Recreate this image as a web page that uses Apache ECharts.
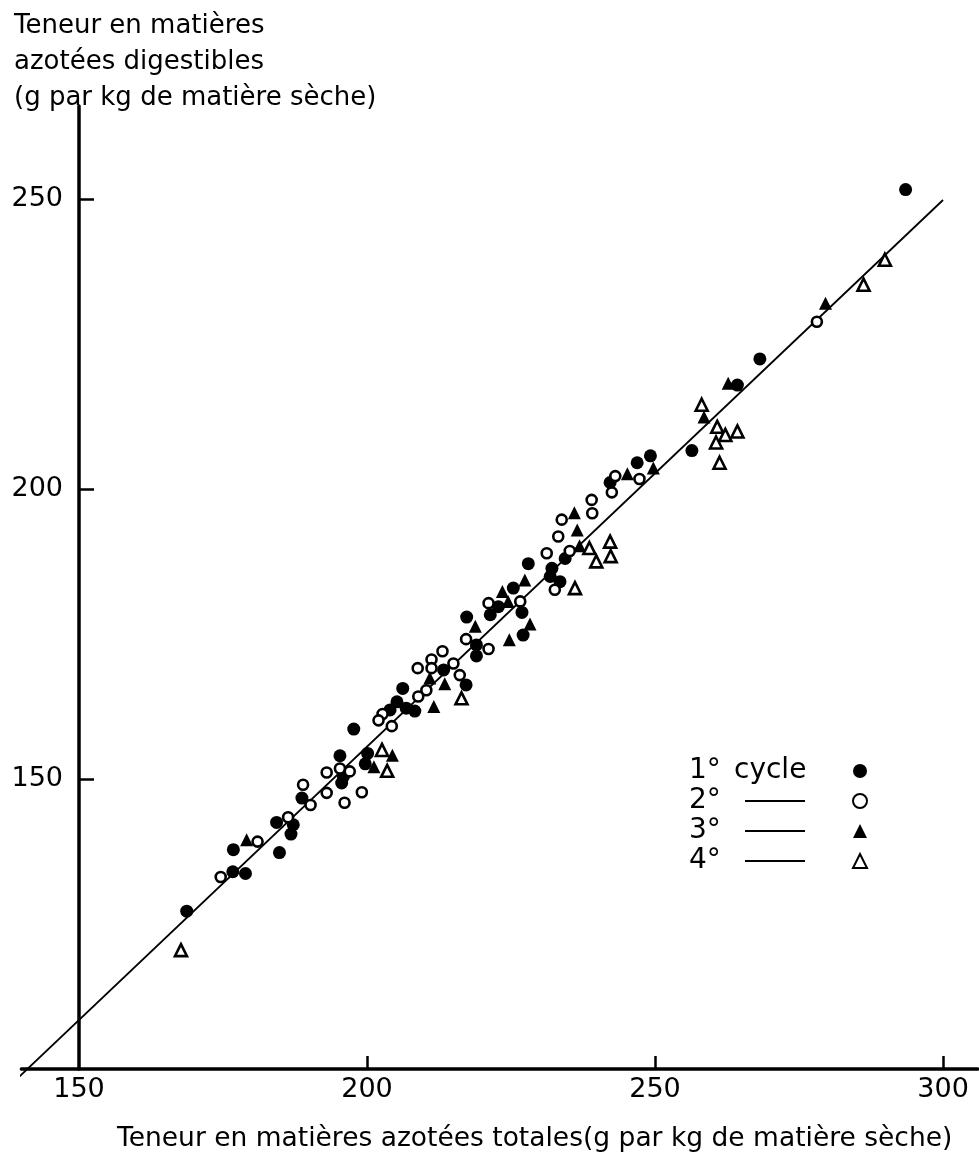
<!DOCTYPE html>
<html>
<head>
<meta charset="utf-8">
<script src="https://cdn.jsdelivr.net/npm/echarts@6/dist/echarts.min.js"></script>
<style>
  html, body { margin: 0; padding: 0; background: #fff; }
  #chart { width: 979px; height: 1152px; }
</style>
</head>
<body>
<div id="chart"></div>
<script>
// ---- Data ----
const xTickLabels = [150, 200, 250, 300];
const xTickMarks = [200, 250, 300];
const yTickLabels = [150, 200, 250];

const legendNames = ['1° cycle', '2°', '3°', '4°'];

// Cycle 1: filled circles [x, y]
const cycle1 = [
  [293.5, 251.6], [268.2, 222.4], [264.3, 217.9], [256.4, 206.6], [249.2, 205.7],
  [246.9, 204.5], [242.2, 201.1], [234.4, 188.0], [228.0, 187.1], [232.1, 186.3],
  [231.8, 184.9], [233.5, 184.0], [225.4, 182.9], [226.9, 178.7], [221.4, 178.3],
  [222.8, 179.7], [217.3, 177.9], [227.1, 174.8], [219.0, 173.1], [219.0, 171.2],
  [213.3, 168.8], [217.2, 166.2], [206.2, 165.6], [205.2, 163.3], [206.8, 162.2],
  [208.3, 161.7], [204.0, 161.9], [197.7, 158.6], [195.3, 154.0], [200.1, 154.4],
  [199.7, 152.6], [195.9, 150.4], [195.6, 149.3], [188.7, 146.7], [184.3, 142.5],
  [187.2, 142.1], [186.8, 140.5], [184.8, 137.3], [176.8, 137.8], [176.7, 134.0],
  [178.9, 133.7], [168.7, 127.2]
];
// Cycle 2: open circles
const cycle2 = [
  [278.1, 228.8], [247.3, 201.7], [243.1, 202.2], [242.5, 199.4], [239.0, 198.1],
  [239.1, 195.8], [233.8, 194.7], [233.2, 191.8], [235.2, 189.3], [231.2, 188.9],
  [232.6, 182.6], [226.6, 180.6], [221.1, 180.3], [217.2, 174.1], [221.1, 172.4],
  [213.1, 172.0], [211.2, 170.6], [215.0, 169.9], [208.8, 169.1], [211.2, 169.1],
  [216.1, 167.9], [210.3, 165.3], [208.9, 164.2], [202.7, 161.2], [202.0, 160.1],
  [204.3, 159.1], [193.0, 151.1], [195.3, 151.8], [197.0, 151.3], [193.0, 147.6],
  [196.1, 145.9], [199.1, 147.7], [190.2, 145.5], [188.9, 149.0], [186.3, 143.4],
  [181.0, 139.2], [174.6, 133.1]
];
// Cycle 3: filled triangles
const cycle3 = [
  [279.6, 232.0], [262.7, 218.2], [258.5, 212.4], [249.7, 203.6], [245.2, 202.6],
  [236.0, 195.9], [236.5, 192.9], [236.9, 190.2], [227.4, 184.3], [223.5, 182.3],
  [224.5, 180.6], [228.3, 176.7], [224.7, 174.0], [218.8, 176.3], [210.9, 167.4],
  [213.5, 166.4], [211.6, 162.5], [204.4, 154.1], [201.2, 152.1], [179.1, 139.5]
];
// Cycle 4: open triangles
const cycle4 = [
  [289.9, 239.5], [286.2, 235.2], [258.1, 214.5], [260.8, 210.7], [262.2, 209.3],
  [264.3, 209.9], [260.6, 208.0], [261.2, 204.5], [238.6, 189.8], [242.2, 190.9],
  [242.3, 188.4], [239.8, 187.5], [236.1, 182.9], [216.4, 163.9], [202.6, 155.0],
  [203.5, 151.4], [167.7, 120.5]
];
// Regression line end points
const fitX = [138.4, 300];
const fitY = [97.5, 249.8];

// ---- Chart ----
const FONT = 'DejaVu Sans';
const chart = echarts.init(document.getElementById('chart'), null, { renderer: 'canvas' });

const fitData = fitX.map((x, i) => [x, fitY[i]]);

const option = {
  backgroundColor: '#ffffff',
  animation: false,
  textStyle: { fontFamily: FONT, color: '#000' },
  title: [
    {
      text: 'Teneur en matières\nazotées digestibles\n(g par kg de matière sèche)',
      left: 9, top: 3,
      textStyle: { fontFamily: FONT, fontSize: 26, fontWeight: 'normal', color: '#000', lineHeight: 36 }
    },
    {
      text: 'Teneur en matières azotées totales(g par kg de matière sèche)',
      left: 112, top: 1121,
      textStyle: { fontFamily: FONT, fontSize: 26.5, fontWeight: 'normal', color: '#000' }
    }
  ],
  legend: {
    orient: 'vertical',
    left: 684, top: 752,
    align: 'right',
    itemGap: 2,
    itemWidth: 14, itemHeight: 14,
    data: legendNames,
    formatter: function (name) {
      if (name === '1° cycle') return '{n|1°}{t|cycle}';
      return '{m|' + name + '}{l| }{s| }';
    },
    textStyle: {
      color: '#000',
      fontFamily: FONT,
      rich: {
        n: { fontSize: 28, fontFamily: FONT, color: '#000', width: 45, align: 'left', lineHeight: 26 },
        t: { fontSize: 28, fontFamily: FONT, color: '#000', width: 114, align: 'left', lineHeight: 26 },
        m: { fontSize: 28, fontFamily: FONT, color: '#000', width: 56, align: 'left', lineHeight: 26 },
        l: { fontSize: 4, width: 60, height: 2, backgroundColor: '#000', align: 'left' },
        s: { fontSize: 4, width: 43, align: 'left' }
      }
    }
  },
  grid: {
    left: 21.4, right: 1.4, top: 106, bottom: 83,
    containLabel: false
  },
  xAxis: {
    type: 'value',
    min: 140, max: 306,
    axisLine: { show: true, lineStyle: { color: '#000', width: 3.5 } },
    axisTick: { show: true, inside: true, length: 13, customValues: xTickMarks, lineStyle: { color: '#000', width: 2.5 } },
    axisLabel: { show: true, customValues: xTickLabels, color: '#000', fontFamily: FONT, fontSize: 27, margin: 7 },
    splitLine: { show: false }
  },
  yAxis: {
    type: 'value',
    min: 100, max: 266,
    position: 'left',
    offset: -57.6,
    axisLine: { show: true, lineStyle: { color: '#000', width: 3.5 } },
    axisTick: { show: true, inside: true, length: 15, customValues: yTickLabels, lineStyle: { color: '#000', width: 2.5 } },
    axisLabel: { show: true, customValues: yTickLabels, color: '#000', fontFamily: FONT, fontSize: 27, margin: 16 },
    splitLine: { show: false }
  },
  series: [
    {
      name: 'fit', type: 'line', data: fitData, clip: false,
      symbol: 'none', silent: true,
      lineStyle: { color: '#000', width: 1.8 },
      z: 1
    },
    {
      name: '1° cycle', type: 'scatter', data: cycle1,
      symbol: 'circle', symbolSize: 13,
      itemStyle: { color: '#000', opacity: 1 }, z: 3
    },
    {
      name: '2°', type: 'scatter', data: cycle2,
      symbol: 'circle', symbolSize: 10,
      itemStyle: { color: '#fff', borderColor: '#000', borderWidth: 2.6, opacity: 1 }, z: 4
    },
    {
      name: '3°', type: 'scatter', data: cycle3,
      symbol: 'triangle', symbolSize: 13,
      itemStyle: { color: '#000', opacity: 1 }, z: 3
    },
    {
      name: '4°', type: 'scatter', data: cycle4,
      symbol: 'triangle', symbolSize: 12,
      itemStyle: { color: '#fff', borderColor: '#000', borderWidth: 2.6, opacity: 1 }, z: 4
    }
  ]
};
chart.setOption(option);
</script>
</body>
</html>
